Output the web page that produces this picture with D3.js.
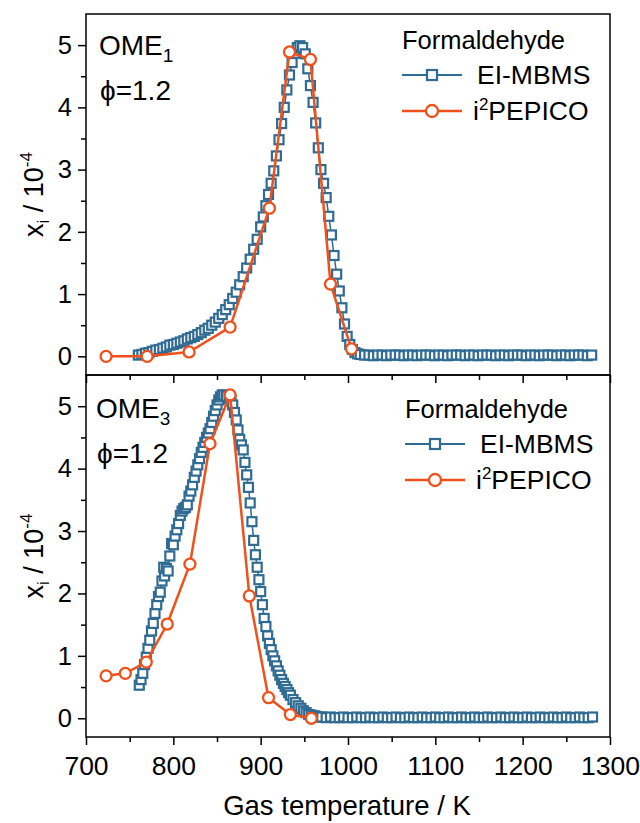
<!DOCTYPE html>
<html>
<head>
<meta charset="utf-8">
<script src="https://cdn.jsdelivr.net/npm/d3@7"></script>
<style>
  html, body { margin: 0; padding: 0; background: #fff; }
  svg { display: block; font-family: "Liberation Sans", Arial, sans-serif; }
</style>
</head>
<body>
<svg id="chart" width="640" height="823"></svg>
<script>
// ---------------- data ----------------
const xTicks = [700, 800, 900, 1000, 1100, 1200, 1300];
const xMinorTicks = [750, 850, 950, 1050, 1150, 1250];
const yTicks = [0, 1, 2, 3, 4, 5];
const yMinorTicks = [0.5, 1.5, 2.5, 3.5, 4.5];

const legendTitle = "Formaldehyde";
const seriesNames = ["EI-MBMS", "i²PEPICO"];

// OME1, phi = 1.2 : EI-MBMS [T (K), x_i / 1e-4]
const ome1Mbms = [
  [760,0.02],[764,0.03],[768,0.05],[772,0.06],[776,0.08],[780,0.10],[784,0.11],[788,0.13],
  [792,0.15],[796,0.18],[800,0.19],[804,0.21],[808,0.23],[812,0.25],[816,0.28],[820,0.30],
  [824,0.32],[828,0.35],[832,0.38],[836,0.42],[840,0.45],[844,0.50],[848,0.55],[852,0.61],
  [856,0.67],[860,0.75],[864,0.83],[868,0.93],[872,1.03],[876,1.15],[880,1.28],[884,1.42],
  [888,1.56],[892,1.72],[896,1.88],[900,2.08],[903,2.24],[906,2.42],[909,2.60],[912,2.78],
  [915,2.98],[918,3.22],[921,3.48],[924,3.74],[927,4.00],[930,4.28],[933,4.52],[936,4.72],
  [939,4.87],[942,4.96],[945,4.99],[948,4.96],[951,4.86],[954,4.62],[957,4.35],[960,4.08],
  [963,3.75],[966,3.35],[969,3.00],[972,2.78],[975,2.55],[978,2.25],[981,1.95],[984,1.62],
  [987,1.32],[990,1.05],[993,0.78],[996,0.52],[999,0.32],[1002,0.19],[1005,0.11],[1008,0.06],
  [1011,0.04],[1014,0.03],[1019,0.02],[1024,0.02],[1029,0.01],[1034,0.02],[1039,0.02],[1044,0.01],
  [1049,0.02],[1054,0.02],[1059,0.02],[1064,0.01],[1069,0.02],[1074,0.02],[1079,0.01],[1084,0.02],
  [1089,0.02],[1094,0.02],[1099,0.01],[1104,0.02],[1109,0.02],[1114,0.01],[1119,0.02],[1124,0.02],
  [1129,0.02],[1134,0.01],[1139,0.02],[1144,0.02],[1149,0.01],[1154,0.02],[1159,0.02],[1164,0.02],
  [1169,0.01],[1174,0.02],[1179,0.02],[1184,0.01],[1189,0.02],[1194,0.02],[1199,0.02],[1204,0.01],
  [1209,0.02],[1214,0.02],[1219,0.01],[1224,0.02],[1229,0.02],[1234,0.02],[1239,0.01],[1244,0.02],
  [1249,0.02],[1254,0.01],[1259,0.02],[1264,0.02],[1269,0.02],[1274,0.01],[1279,0.02]
];

// OME1, phi = 1.2 : i2PEPICO
const ome1Pepico = [
  [723,0.00],[770,0.00],[818,0.07],[865,0.47],[910,2.38],[933,4.89],[957,4.77],[980,1.16],[1004,0.12]
];

// OME3, phi = 1.2 : EI-MBMS
const ome3Mbms = [
  [761,0.53],[763,0.62],[765,0.72],[767,0.86],[769,0.98],[771,1.12],[773,1.25],[775,1.40],
  [777,1.52],[779,1.68],[781,1.82],[783,1.95],[785,2.02],[787,2.20],[789,2.42],[790,2.28],
  [792,2.40],[794,2.36],[796,2.60],[798,2.80],[800,2.78],[802,2.92],[804,3.02],[806,3.12],
  [808,3.25],[810,3.32],[812,3.36],[814,3.38],[816,3.42],[818,3.56],[820,3.64],[822,3.74],
  [824,3.86],[826,3.96],[828,4.06],[830,4.16],[832,4.26],[834,4.34],[836,4.42],[838,4.50],
  [840,4.57],[842,4.64],[844,4.74],[846,4.84],[848,4.93],[850,5.02],[852,5.10],[854,5.15],
  [856,5.18],[858,5.18],[861,5.16],[864,5.12],[866,5.10],[868,5.02],[870,4.90],[872,4.78],
  [874,4.62],[876,4.47],[878,4.38],[880,4.30],[882,4.10],[884,3.90],[886,3.70],[888,3.45],
  [890,3.15],[892,2.85],[894,2.62],[896,2.42],[898,2.22],[900,2.03],[902,1.82],[904,1.60],
  [906,1.47],[908,1.32],[910,1.20],[912,1.10],[914,1.00],[916,0.92],[918,0.84],[920,0.76],
  [922,0.69],[924,0.62],[926,0.56],[928,0.51],[930,0.46],[932,0.41],[934,0.37],[937,0.30],
  [940,0.25],[943,0.20],[946,0.16],[949,0.12],[952,0.09],[955,0.06],[958,0.05],[961,0.04],
  [964,0.03],[967,0.02],[970,0.02],[975,0.01],[980,0.02],[985,0.01],[990,0.01],[995,0.02],
  [1000,0.01],[1005,0.01],[1010,0.02],[1015,0.01],[1020,0.01],[1025,0.02],[1030,0.01],[1035,0.01],
  [1040,0.02],[1045,0.01],[1050,0.01],[1055,0.02],[1060,0.01],[1065,0.01],[1070,0.02],[1075,0.01],
  [1080,0.01],[1085,0.02],[1090,0.01],[1095,0.01],[1100,0.02],[1105,0.01],[1110,0.01],[1115,0.02],
  [1120,0.01],[1125,0.01],[1130,0.02],[1135,0.01],[1140,0.01],[1145,0.02],[1150,0.01],[1155,0.01],
  [1160,0.02],[1165,0.01],[1170,0.01],[1175,0.02],[1180,0.01],[1185,0.01],[1190,0.02],[1195,0.01],
  [1200,0.01],[1205,0.02],[1210,0.01],[1215,0.01],[1220,0.02],[1225,0.01],[1230,0.01],[1235,0.02],
  [1240,0.01],[1245,0.01],[1250,0.02],[1255,0.01],[1260,0.01],[1265,0.02],[1270,0.01],[1275,0.01],
  [1280,0.02]
];

// OME3, phi = 1.2 : i2PEPICO
const ome3Pepico = [
  [723,0.68],[745,0.72],[769,0.90],[793,1.51],[819,2.47],[842,4.40],[865,5.18],[887,1.96],
  [909,0.33],[934,0.06],[958,0.00]
];

// ---------------- layout / styles ----------------
const BLUE = "#2f6b93";
const ORANGE = "#f0501a";
const plotLeft = 86, plotRight = 610;
const panels = [
  { fuel: "OME", sub: "1", mbms: ome1Mbms, pepico: ome1Pepico, top: 14, bottom: 375, showX: false, lx: 0, ly: 0 },
  { fuel: "OME", sub: "3", mbms: ome3Mbms, pepico: ome3Pepico, top: 375, bottom: 737, showX: true, lx: 3, ly: 369 }
];

const svg = d3.select("#chart");
const x = d3.scaleLinear().domain([700, 1300]).range([plotLeft, plotRight]);

panels.forEach((p, i) => {
  const y = d3.scaleLinear().domain([-0.3, 5.5]).range([p.bottom, p.top]);
  const g = svg.append("g");

  // Y axis major / minor
  const yAx = g.append("g").attr("transform", `translate(${plotLeft},0)`)
    .call(d3.axisLeft(y).tickValues(yTicks).tickSize(8).tickPadding(6).tickFormat(d3.format("d")));
  yAx.select(".domain").remove();
  yAx.selectAll("text").attr("font-size", 25.5).attr("fill", "#000").attr("font-family", "Liberation Sans, Arial, sans-serif");
  yAx.selectAll("line").attr("stroke-width", 1.5);
  const yMin = g.append("g").attr("transform", `translate(${plotLeft},0)`)
    .call(d3.axisLeft(y).tickValues(yMinorTicks).tickSize(5).tickFormat(""));
  yMin.select(".domain").remove();
  yMin.selectAll("line").attr("stroke-width", 1.5);

  // X axis major / minor
  const xAx = g.append("g").attr("transform", `translate(0,${p.bottom})`)
    .call(d3.axisBottom(x).tickValues(xTicks).tickSize(8).tickPadding(11)
      .tickFormat(p.showX ? d3.format("d") : ""));
  xAx.select(".domain").remove();
  xAx.selectAll("text").attr("font-size", 26.5).attr("fill", "#000").attr("font-family", "Liberation Sans, Arial, sans-serif");
  xAx.selectAll("line").attr("stroke-width", 1.5);
  const xMin = g.append("g").attr("transform", `translate(0,${p.bottom})`)
    .call(d3.axisBottom(x).tickValues(xMinorTicks).tickSize(5).tickFormat(""));
  xMin.select(".domain").remove();
  xMin.selectAll("line").attr("stroke-width", 1.5);

  // frame
  g.append("rect").attr("x", plotLeft).attr("y", p.top)
    .attr("width", plotRight - plotLeft).attr("height", p.bottom - p.top)
    .attr("fill", "none").attr("stroke", "#000").attr("stroke-width", 1.5);

  // y label
  const yl = g.append("text")
    .attr("transform", `translate(43,${(p.top + p.bottom) / 2}) rotate(-90)`)
    .attr("text-anchor", "middle").attr("font-size", 27).attr("fill", "#000");
  yl.append("tspan").text("x");
  yl.append("tspan").attr("font-size", 17).attr("dy", 6).text("i");
  yl.append("tspan").attr("dy", -6).text(" / 10");
  yl.append("tspan").attr("font-size", 17).attr("dy", -11).text("-4");

  const line = d3.line().x(d => x(d[0])).y(d => y(d[1]));

  // EI-MBMS
  g.append("path").datum(p.mbms).attr("d", line)
    .attr("fill", "none").attr("stroke", BLUE).attr("stroke-width", 1.5);
  g.append("g").selectAll("rect").data(p.mbms).join("rect")
    .attr("x", d => x(d[0]) - 4.5).attr("y", d => y(d[1]) - 4.5)
    .attr("width", 9).attr("height", 9)
    .attr("fill", "#fff").attr("stroke", BLUE).attr("stroke-width", 2.2);

  // i2PEPICO
  g.append("path").datum(p.pepico).attr("d", line)
    .attr("fill", "none").attr("stroke", ORANGE).attr("stroke-width", 2.5);
  g.append("g").selectAll("circle").data(p.pepico).join("circle")
    .attr("cx", d => x(d[0])).attr("cy", d => y(d[1])).attr("r", 5.5)
    .attr("fill", "#fff").attr("stroke", ORANGE).attr("stroke-width", 2.3);

  // fuel annotation
  const ann = g.append("text").attr("x", i === 0 ? 99 : 96).attr("y", i === 0 ? 55 : 418)
    .attr("font-size", 28).attr("fill", "#000");
  ann.append("tspan").text(p.fuel);
  ann.append("tspan").attr("font-size", 19).attr("dy", 7).text(p.sub);
  g.append("text").attr("x", i === 0 ? 100 : 97).attr("y", i === 0 ? 100 : 463)
    .attr("font-size", 28).attr("fill", "#000").text("ϕ=1.2");

  // legend
  const lg = g.append("g").attr("transform", `translate(${p.lx},${p.ly})`);
  lg.append("text").attr("x", 402).attr("y", 49).attr("font-size", 25.5).attr("fill", "#000").text(legendTitle);
  lg.append("line").attr("x1", 402).attr("x2", 462).attr("y1", 75).attr("y2", 75)
    .attr("stroke", BLUE).attr("stroke-width", 2);
  lg.append("rect").attr("x", 432 - 5).attr("y", 75 - 5).attr("width", 10).attr("height", 10)
    .attr("fill", "#fff").attr("stroke", BLUE).attr("stroke-width", 2.2);
  lg.append("text").attr("x", 477).attr("y", 84).attr("font-size", 26.5).attr("fill", "#000").text(seriesNames[0]);
  lg.append("line").attr("x1", 402).attr("x2", 462).attr("y1", 111).attr("y2", 111)
    .attr("stroke", ORANGE).attr("stroke-width", 2.3);
  lg.append("circle").attr("cx", 432).attr("cy", 111).attr("r", 6)
    .attr("fill", "#fff").attr("stroke", ORANGE).attr("stroke-width", 2.3);
  const t2 = lg.append("text").attr("x", 473).attr("y", 120).attr("font-size", 26.5).attr("fill", "#000");
  t2.append("tspan").text("i");
  t2.append("tspan").attr("font-size", 17).attr("dy", -10).text("2");
  t2.append("tspan").attr("dy", 10).text("PEPICO");
});

// x axis title
svg.append("text").attr("x", (plotLeft + plotRight) / 2 - 1).attr("y", 815)
  .attr("text-anchor", "middle").attr("font-size", 27.5).attr("fill", "#000")
  .text("Gas temperature / K");
</script>
</body>
</html>
